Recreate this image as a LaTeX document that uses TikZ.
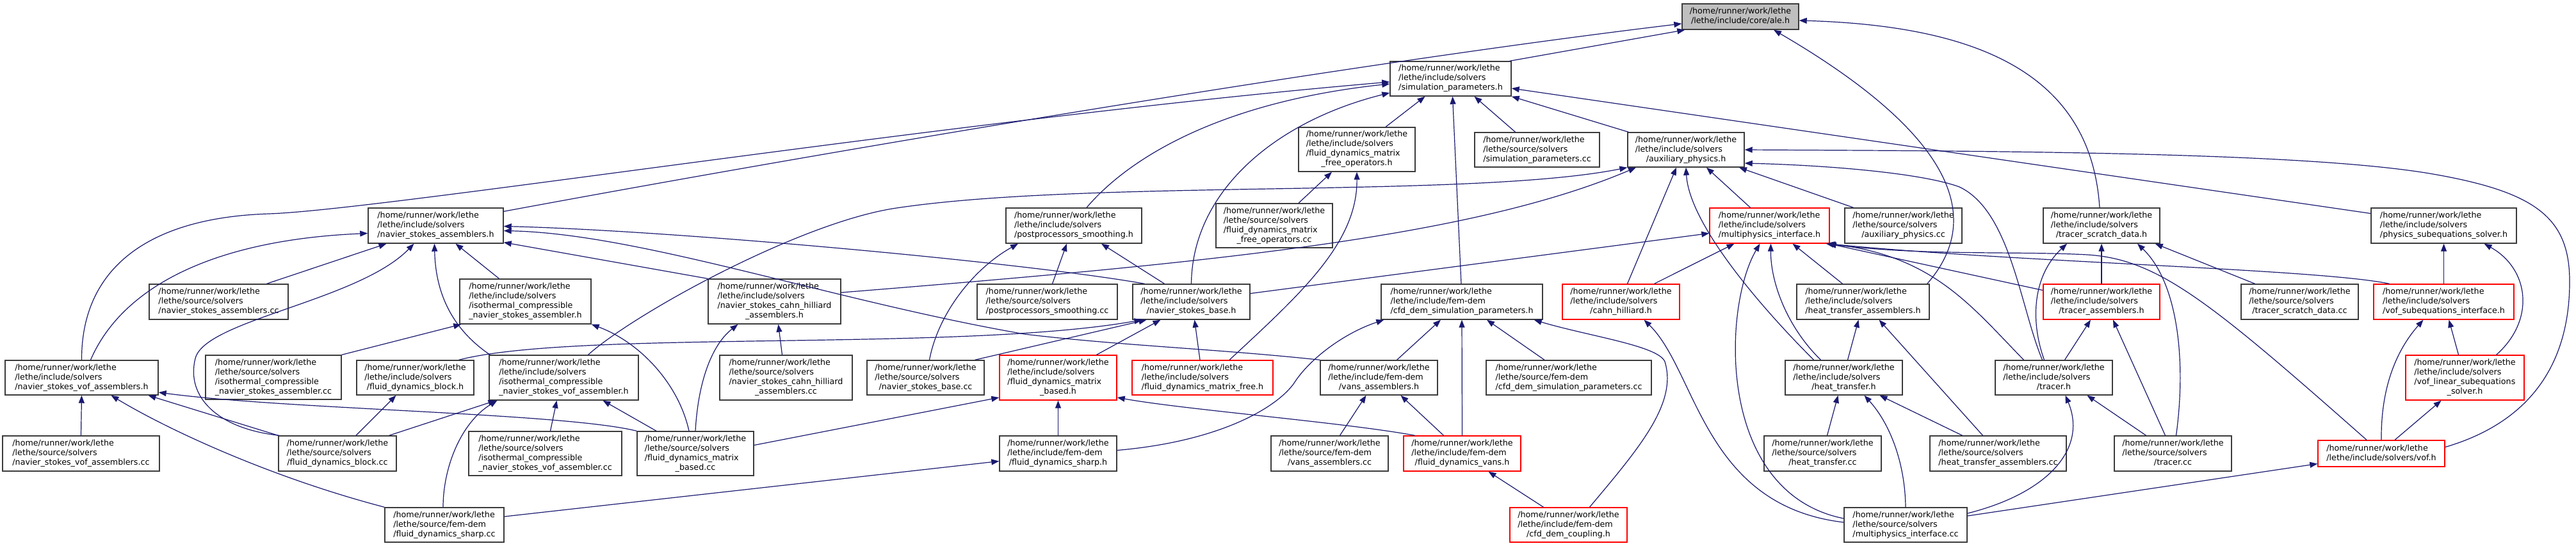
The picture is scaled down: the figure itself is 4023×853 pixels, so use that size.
\documentclass[tikz,border=0pt]{standalone}
\usepackage{fontspec}
\setmainfont{DejaVu Sans}
\usetikzlibrary{arrows.meta}
\definecolor{edgeblue}{HTML}{191970}
\definecolor{ndgray}{HTML}{3C3C3C}
\definecolor{rootgray}{HTML}{BFBFBF}
\definecolor{rdred}{HTML}{FF0000}
\newcommand{\lbl}[2]{\begin{tabular}{@{}l@{}}#1\\\multicolumn{1}{@{}c@{}}{#2}\end{tabular}}
\newcommand{\HRW}{/home/runner/work/lethe}
\newcommand{\LIS}{/lethe/include/solvers}
\newcommand{\LSS}{/lethe/source/solvers}
\newcommand{\LIF}{/lethe/include/fem-dem}
\newcommand{\LSF}{/lethe/source/fem-dem}
\begin{document}
\begin{tikzpicture}[x=1pt,y=-1pt,
  nd/.style={draw=ndgray, line width=1.4pt, fill=white, inner sep=0pt, text=black, font=\fontsize{12.7}{15}\selectfont},
  rd/.style={nd, draw=rdred},
  rt/.style={nd, fill=rootgray},
  edg/.style={draw=edgeblue, line width=1.2pt, -{Triangle[length=12pt,width=9pt]}}]
\fill[white] (0,0) rectangle (4023,853);
\useasboundingbox (0,0) rectangle (4023,853);
% row 0
\node[rt, minimum width=182pt, minimum height=40pt] (A) at (2718,26) {\lbl{\HRW}{/lethe/include/core/ale.h}};
% row 1
\node[nd, minimum width=189pt, minimum height=54pt] (SP) at (2265.5,123) {\lbl{\HRW\\\LIS}{/simulation\_parameters.h}};
% row 2
\node[nd, minimum width=182pt, minimum height=69pt] (FDMFO) at (2119,233.5) {\lbl{\HRW\\\LIS\\/fluid\_dynamics\_matrix}{\_free\_operators.h}};
\node[nd, minimum width=195pt, minimum height=54pt] (SPcc) at (2400.5,234) {\lbl{\HRW\\\LSS}{/simulation\_parameters.cc}};
\node[nd, minimum width=182pt, minimum height=54pt] (AUX) at (2633,234) {\lbl{\HRW\\\LIS}{/auxiliary\_physics.h}};
% row 3
\node[nd, minimum width=182pt, minimum height=69pt] (FDMFOcc) at (1990,352.5) {\lbl{\HRW\\\LSS\\/fluid\_dynamics\_matrix}{\_free\_operators.cc}};
\node[nd, minimum width=212pt, minimum height=55pt] (PPS) at (1677,352.5) {\lbl{\HRW\\\LIS}{/postprocessors\_smoothing.h}};
\node[nd, minimum width=211pt, minimum height=55pt] (NSA) at (680.5,352.5) {\lbl{\HRW\\\LIS}{/navier\_stokes\_assemblers.h}};
\node[rd, minimum width=187pt, minimum height=55pt] (MPI) at (2763.5,352.5) {\lbl{\HRW\\\LIS}{/multiphysics\_interface.h}};
\node[nd, minimum width=183pt, minimum height=55pt] (AUXcc) at (2972.5,352.5) {\lbl{\HRW\\\LSS}{/auxiliary\_physics.cc}};
\node[nd, minimum width=182pt, minimum height=55pt] (TSD) at (3282,352.5) {\lbl{\HRW\\\LIS}{/tracer\_scratch\_data.h}};
\node[nd, minimum width=227pt, minimum height=55pt] (PSS) at (3816.5,352.5) {\lbl{\HRW\\\LIS}{/physics\_subequations\_solver.h}};
% row 4
\node[nd, minimum width=217pt, minimum height=55pt] (NSAcc) at (341.5,471.5) {\lbl{\HRW\\\LSS}{/navier\_stokes\_assemblers.cc}};
\node[nd, minimum width=205pt, minimum height=70pt] (ICNSA) at (820.5,471) {\lbl{\HRW\\\LIS\\/isothermal\_compressible}{\_navier\_stokes\_assembler.h}};
\node[nd, minimum width=207pt, minimum height=70pt] (NSCHA) at (1209.5,471) {\lbl{\HRW\\\LIS\\/navier\_stokes\_cahn\_hilliard}{\_assemblers.h}};
\node[nd, minimum width=219pt, minimum height=55pt] (PPScc) at (1635.5,471.5) {\lbl{\HRW\\\LSS}{/postprocessors\_smoothing.cc}};
\node[nd, minimum width=183pt, minimum height=55pt] (NSB) at (1860.5,471.5) {\lbl{\HRW\\\LIS}{/navier\_stokes\_base.h}};
\node[nd, minimum width=252pt, minimum height=55pt] (CFDSP) at (2283,471.5) {\lbl{\HRW\\\LIF}{/cfd\_dem\_simulation\_parameters.h}};
\node[rd, minimum width=183pt, minimum height=55pt] (CH) at (2531.5,471.5) {\lbl{\HRW\\\LIS}{/cahn\_hilliard.h}};
\node[nd, minimum width=207pt, minimum height=55pt] (HTA) at (2909.5,471.5) {\lbl{\HRW\\\LIS}{/heat\_transfer\_assemblers.h}};
\node[rd, minimum width=182pt, minimum height=55pt] (TA) at (3282,471.5) {\lbl{\HRW\\\LIS}{/tracer\_assemblers.h}};
\node[nd, minimum width=183pt, minimum height=55pt] (TSDcc) at (3591.5,471.5) {\lbl{\HRW\\\LSS}{/tracer\_scratch\_data.cc}};
\node[rd, minimum width=219pt, minimum height=55pt] (VSI) at (3816.5,471.5) {\lbl{\HRW\\\LIS}{/vof\_subequations\_interface.h}};
% row 5
\node[nd, minimum width=239pt, minimum height=54pt] (NSVA) at (127.5,590) {\lbl{\HRW\\\LIS}{/navier\_stokes\_vof\_assemblers.h}};
\node[nd, minimum width=212pt, minimum height=69pt] (ICNSAcc) at (427,589.5) {\lbl{\HRW\\\LSS\\/isothermal\_compressible}{\_navier\_stokes\_assembler.cc}};
\node[nd, minimum width=183pt, minimum height=54pt] (FDB) at (648.5,590) {\lbl{\HRW\\\LIS}{/fluid\_dynamics\_block.h}};
\node[nd, minimum width=233pt, minimum height=70pt] (ICNSVA) at (880.5,590) {\lbl{\HRW\\\LIS\\/isothermal\_compressible}{\_navier\_stokes\_vof\_assembler.h}};
\node[nd, minimum width=207pt, minimum height=70pt] (NSCHAcc) at (1227.5,590) {\lbl{\HRW\\\LSS\\/navier\_stokes\_cahn\_hilliard}{\_assemblers.cc}};
\node[nd, minimum width=183pt, minimum height=54pt] (NSBcc) at (1445.5,590) {\lbl{\HRW\\\LSS}{/navier\_stokes\_base.cc}};
\node[rd, minimum width=183pt, minimum height=70pt] (FDMB) at (1652.5,590) {\lbl{\HRW\\\LIS\\/fluid\_dynamics\_matrix}{\_based.h}};
\node[rd, minimum width=220pt, minimum height=54pt] (FDMF) at (1878,590) {\lbl{\HRW\\\LIS}{/fluid\_dynamics\_matrix\_free.h}};
\node[nd, minimum width=183pt, minimum height=54pt] (VA) at (2153.5,590) {\lbl{\HRW\\\LIF}{/vans\_assemblers.h}};
\node[nd, minimum width=258pt, minimum height=54pt] (CFDSPcc) at (2450,590) {\lbl{\HRW\\\LSF}{/cfd\_dem\_simulation\_parameters.cc}};
\node[nd, minimum width=183pt, minimum height=54pt] (HT) at (2879.5,590) {\lbl{\HRW\\\LIS}{/heat\_transfer.h}};
\node[nd, minimum width=183pt, minimum height=54pt] (TR) at (3207.5,590) {\lbl{\HRW\\\LIS}{/tracer.h}};
\node[rd, minimum width=185pt, minimum height=70pt] (VLSS) at (3849.5,590) {\lbl{\HRW\\\LIS\\/vof\_linear\_subequations}{\_solver.h}};
% row 6
\node[nd, minimum width=245pt, minimum height=55pt] (NSVAcc) at (126.5,708.5) {\lbl{\HRW\\\LSS}{/navier\_stokes\_vof\_assemblers.cc}};
\node[nd, minimum width=184pt, minimum height=55pt] (FDBcc) at (527,708.5) {\lbl{\HRW\\\LSS}{/fluid\_dynamics\_block.cc}};
\node[nd, minimum width=239pt, minimum height=69pt] (ICNSVAcc) at (851.5,708.5) {\lbl{\HRW\\\LSS\\/isothermal\_compressible}{\_navier\_stokes\_vof\_assembler.cc}};
\node[nd, minimum width=182pt, minimum height=69pt] (FDMBcc) at (1086,708.5) {\lbl{\HRW\\\LSS\\/fluid\_dynamics\_matrix}{\_based.cc}};
\node[nd, minimum width=183pt, minimum height=55pt] (FDS) at (1652.5,708.5) {\lbl{\HRW\\\LIF}{/fluid\_dynamics\_sharp.h}};
\node[nd, minimum width=183pt, minimum height=55pt] (VAcc) at (2076.5,708.5) {\lbl{\HRW\\\LSF}{/vans\_assemblers.cc}};
\node[rd, minimum width=183pt, minimum height=55pt] (FDV) at (2283.5,708.5) {\lbl{\HRW\\\LIF}{/fluid\_dynamics\_vans.h}};
\node[nd, minimum width=183pt, minimum height=55pt] (HTcc) at (2846.5,708.5) {\lbl{\HRW\\\LSS}{/heat\_transfer.cc}};
\node[nd, minimum width=213pt, minimum height=55pt] (HTAcc) at (3120.5,708.5) {\lbl{\HRW\\\LSS}{/heat\_transfer\_assemblers.cc}};
\node[nd, minimum width=183pt, minimum height=55pt] (TRcc) at (3393.5,708.5) {\lbl{\HRW\\\LSS}{/tracer.cc}};
\node[rd, minimum width=198pt, minimum height=41pt] (VOF) at (3719,708.5) {\lbl{\HRW}{/lethe/include/solvers/vof.h}};
% row 7
\node[nd, minimum width=186pt, minimum height=54pt] (FDScc) at (694,820) {\lbl{\HRW\\\LSF}{/fluid\_dynamics\_sharp.cc}};
\node[rd, minimum width=183pt, minimum height=54pt] (CDC) at (2449.5,820) {\lbl{\HRW\\\LIF}{/cfd\_dem\_coupling.h}};
\node[nd, minimum width=192pt, minimum height=54pt] (MPIcc) at (2976,820) {\lbl{\HRW\\\LSS}{/multiphysics\_interface.cc}};

% ---------- edges (includer -> included) ----------
\draw[edg] ([xshift=-3]SP.north east) -- ([xshift=5]A.south west);
\draw[edg] ([yshift=-6]NSA.north east) .. controls (1300,235) and (2100,100) .. ([yshift=-11]A.west);
\draw[edg] ([xshift=-4]HTA.north east) .. controls (3100,340) and (3050,210) .. ([xshift=52]A.south);
\draw[edg] ([xshift=-3]TSD.north) .. controls (3265,110) and (3080,40) .. ([yshift=-6]A.east);

\draw[edg] (NSVA.north) .. controls (127,420) and (230,340) .. (420,334) .. controls (600,328) and (1500,185) .. ([yshift=-5]SP.west);
\draw[edg] ([xshift=20]PPS.north) .. controls (1760,250) and (1900,160) .. ([yshift=-8]SP.west);
\draw[edg] (NSB.north) .. controls (1862,300) and (1990,190) .. ([yshift=-22]SP.west);
\draw[edg] ([xshift=45]FDMFO.north) -- ([xshift=-40]SP.south);
\draw[edg] ([xshift=-1]CFDSP.north) -- ([xshift=3]SP.south);
\draw[edg] ([xshift=-34]SPcc.north) -- ([xshift=37]SP.south);
\draw[edg] ([xshift=2]AUX.north west) -- (SP.south east);
\draw[edg] ([yshift=19]PSS.west) -- ([yshift=-15]SP.east);

\draw[edg] ([xshift=38]ICNSVA.north) .. controls (990,490) and (1250,347) .. (1400,325) .. controls (1700,280) and (2300,310) .. (AUX.south west);
\draw[edg] ([yshift=14]NSCHA.east) .. controls (1900,410) and (2300,370) .. ([xshift=-78]AUX.south);
\draw[edg] ([xshift=10]CH.north) -- ([xshift=-15]AUX.south);
\draw[edg] ([xshift=-47]HT.north) .. controls (2750,480) and (2638,350) .. (AUX.south);
\draw[edg] ([xshift=-30]MPI.north) -- ([xshift=32]AUX.south);
\draw[edg] ([xshift=-78]AUXcc.north) -- ([xshift=83]AUX.south);
\draw[edg] ([yshift=10]VOF.east) .. controls (3950,660) and (4013,570) .. (4013,440) .. controls (4013,340) and (3960,300) .. (3800,272) .. controls (3600,237) and (3100,236) .. (AUX.east);
\draw[edg] ([xshift=-18]TR.north) .. controls (3155,480) and (3140,330) .. (3060,292) .. controls (3000,270) and (2850,258) .. ([yshift=-21]AUX.east);

\draw[edg] ([xshift=38]FDMFOcc.north) -- ([xshift=-39]FDMFO.south);
\draw[edg] ([xshift=42]FDMF.north) .. controls (2030,460) and (2120,380) .. (FDMFO.south);

\draw[edg] ([xshift=6]NSBcc.north) .. controls (1465,490) and (1520,420) .. ([xshift=-87]PPS.south);
\draw[edg] ([xshift=8]PPScc.north) -- ([xshift=-11]PPS.south);
\draw[edg] ([xshift=-42]NSB.north) -- ([xshift=43]PPS.south);

\draw[edg] ([xshift=14]NSVA.north) .. controls (190,450) and (330,375) .. ([yshift=-12]NSA.west);
\draw[edg] ([xshift=75]NSAcc.north) -- ([xshift=-77]NSA.south);
\draw[edg] ([xshift=2]FDBcc.north west) .. controls (340,670) and (290,620) .. (305,560) .. controls (320,500) and (560,470) .. ([xshift=-34]NSA.south);
\draw[edg] ([xshift=2]ICNSVA.north west) .. controls (700,510) and (680,450) .. ([xshift=-2]NSA.south);
\draw[edg] ([xshift=-41]ICNSA.north) -- ([xshift=31]NSA.south);
\draw[edg] ([xshift=-73]NSB.north) .. controls (1600,410) and (1050,360) .. ([yshift=-1]NSA.east);
\draw[edg] (VA.north west) .. controls (1900,545) and (1750,540) .. (1600,522) .. controls (1300,470) and (1000,365) .. ([yshift=-8]NSA.east);
\draw[edg] (NSCHA.north west) -- ([yshift=2]NSA.south east);

\draw[edg] ([yshift=13]NSB.east) -- ([yshift=-12]MPI.west);
\draw[edg] ([xshift=52]CH.north) -- ([xshift=-55]MPI.south);
\draw[edg] ([yshift=10]MPIcc.west) .. controls (2680,770) and (2690,480) .. ([xshift=-15]MPI.south);
\draw[edg] ([xshift=-36]HT.north) .. controls (2790,510) and (2765,440) .. ([xshift=2]MPI.south);
\draw[edg] ([xshift=-32]HTA.north) -- ([xshift=36]MPI.south);
\draw[edg] ([yshift=18]TA.west) -- ([xshift=-2]MPI.south east);
\draw[edg] ([xshift=-85]VSI.north) .. controls (3620,420) and (3150,410) .. ([xshift=-4]MPI.south east);
\draw[edg] ([xshift=-23]VOF.north) .. controls (3450,470) and (3370,405) .. (3260,398) .. controls (3150,392) and (3000,400) .. ([xshift=-6]MPI.south east);
\draw[edg] ([xshift=-47]TR.north) .. controls (3080,480) and (3020,400) .. ([xshift=-3]MPI.south east);

\draw[edg] ([xshift=-15]TR.north) .. controls (3170,500) and (3175,430) .. ([xshift=-54]TSD.south);
\draw[edg] (TA.north) -- (TSD.south);
\draw[edg] ([xshift=5]TRcc.north) .. controls (3415,560) and (3400,440) .. ([xshift=56]TSD.south);
\draw[edg] ([xshift=-70]TSDcc.north) -- ([xshift=-8]TSD.south east);

\draw[edg] (VSI.north) -- (PSS.south);
\draw[edg] ([xshift=49]VLSS.north) .. controls (3960,500) and (3950,420) .. ([xshift=63]PSS.south);

\draw[edg] (ICNSAcc.north east) -- ([xshift=3]ICNSA.south west);
\draw[edg] ([xshift=-10]FDMBcc.north) .. controls (1060,600) and (1000,535) .. (ICNSA.south east);
\draw[edg] ([xshift=-6]NSCHAcc.north) -- ([xshift=6]NSCHA.south);
\draw[edg] (FDMBcc.north) .. controls (1090,600) and (1110,540) .. ([xshift=-57]NSCHA.south);

\draw[edg] ([xshift=77]NSBcc.north) -- ([xshift=-70]NSB.south);
\draw[edg] ([xshift=68]FDB.north) .. controls (900,515) and (1500,550) .. ([xshift=-77]NSB.south);
\draw[edg] ([xshift=60]FDMB.north) -- ([xshift=-48]NSB.south);
\draw[edg] ([xshift=-4]FDMF.north) -- ([xshift=5]NSB.south);

\draw[edg] ([yshift=5]FDS.east) .. controls (1900,690) and (1990,640) .. (2020,600) .. controls (2045,560) and (2100,520) .. ([xshift=5]CFDSP.south west);
\draw[edg] ([xshift=28]VA.north) -- ([xshift=-33]CFDSP.south);
\draw[edg] (FDV.north) -- (CFDSP.south);
\draw[edg] ([xshift=-38]CFDSPcc.north) -- ([xshift=39]CFDSP.south);
\draw[edg] ([xshift=33]CDC.north) .. controls (2560,700) and (2620,630) .. (2600,565) .. controls (2590,540) and (2480,525) .. ([xshift=-14]CFDSP.south east);

\draw[edg] ([yshift=4]MPIcc.west) .. controls (2660,790) and (2650,580) .. ([xshift=36]CH.south);
\draw[edg] ([xshift=6]HT.north) -- ([xshift=-7]HTA.south);
\draw[edg] ([xshift=-24]HTAcc.north) -- ([xshift=25]HTA.south);
\draw[edg] ([xshift=17]TR.north) -- ([xshift=-17]TA.south);
\draw[edg] ([xshift=-12]TRcc.north) -- ([xshift=18]TA.south);
\draw[edg] (VOF.north) .. controls (3718,610) and (3740,550) .. ([xshift=-32]VSI.south);
\draw[edg] ([xshift=-10]VLSS.north) -- ([xshift=8]VSI.south);

\draw[edg] (NSVAcc.north) -- (NSVA.south);
\draw[edg] (FDScc.north west) .. controls (420,745) and (260,670) .. ([xshift=46]NSVA.south);
\draw[edg] (FDBcc.north west) -- ([xshift=104]NSVA.south);
\draw[edg] (FDMBcc.north west) .. controls (880,645) and (450,640) .. ([yshift=-23]NSVA.east);

\draw[edg] ([xshift=29]FDBcc.north) -- ([xshift=-30]FDB.south);
\draw[edg] ([xshift=-12]FDBcc.north east) -- ([xshift=-106]ICNSVA.south);
\draw[edg] ([xshift=-2]FDScc.north) .. controls (692,730) and (720,660) .. ([xshift=-104]ICNSVA.south);
\draw[edg] ([xshift=8]ICNSVAcc.north) -- ([xshift=-11]ICNSVA.south);
\draw[edg] ([xshift=-61]FDMBcc.north) -- ([xshift=61]ICNSVA.south);

\draw[edg] (FDS.north) -- (FDMB.south);
\draw[edg] ([yshift=13]FDMBcc.east) -- ([yshift=-31]FDMB.west);
\draw[edg] ([xshift=-74]FDV.north) .. controls (2100,660) and (1850,640) .. ([yshift=-31]FDMB.east);

\draw[edg] ([xshift=16]VAcc.north) -- ([xshift=-20]VA.south);
\draw[edg] ([xshift=-29]FDV.north) -- ([xshift=34]VA.south);
\draw[edg] ([xshift=7]HTcc.north) -- ([xshift=-9]HT.south);
\draw[edg] (MPIcc.north) .. controls (2975,720) and (2950,660) .. ([xshift=32]HT.south);
\draw[edg] ([xshift=-56]HTAcc.north) -- ([xshift=56]HT.south);
\draw[edg] ([yshift=18]MPIcc.east) .. controls (3200,770) and (3260,700) .. ([xshift=18]TR.south);
\draw[edg] ([xshift=-42]TRcc.north) -- ([xshift=52]TR.south);
\draw[edg] ([xshift=21]VOF.north) -- ([xshift=-37]VLSS.south);
\draw[edg] ([yshift=14]MPIcc.east) -- ([yshift=-16]VOF.west);
\draw[edg] ([xshift=-39]CDC.north) -- ([xshift=41]FDV.south);
\draw[edg] ([yshift=13]FDScc.east) -- ([yshift=-12]FDS.west);
\end{tikzpicture}
\end{document}
